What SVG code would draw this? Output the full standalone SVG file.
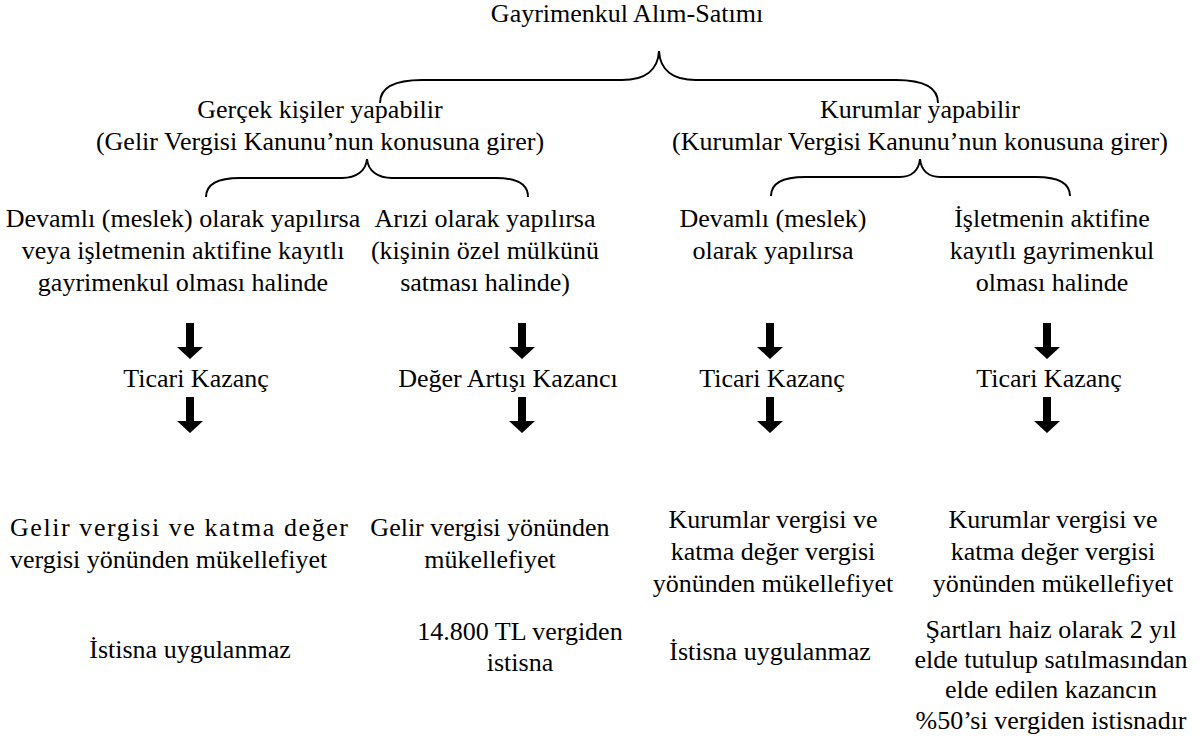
<svg xmlns="http://www.w3.org/2000/svg" xmlns:xlink="http://www.w3.org/1999/xlink" width="1201" height="738" viewBox="0 0 1201 738">
<style>
.t{font-size:26px;fill:#000;}
.c{text-anchor:middle;}
.brace{fill:none;stroke:#000;stroke-width:2;}
</style>
<defs>
<path id="arr" d="M-4,0 H4 V24 H13 L0,36 L-13,24 H-4 Z" fill="#000"/>
</defs>
<rect width="1201" height="738" fill="#fff"/>
<g id="connectors">
<path class="brace" d="M380,103 C380,89 392,80 422,80 H622 C645,80 658,70 659,51 C660,70 673,80 696,80 H896 C926,80 938,89 938,103"/>
<path class="brace" d="M206,197 C206,186 214,178 240,178 H342 C356,178 366,171 367,159 C368,171 378,178 392,178 H496 C520,178 528,186 528,197"/>
<path class="brace" d="M771,196 C771,185 779,177 805,177 H900 C912,177 919,170 920,159 C921,170 928,177 940,177 H1036 C1062,177 1070,185 1070,196"/>
<use xlink:href="#arr" x="190" y="323"/>
<use xlink:href="#arr" x="190" y="397"/>
<use xlink:href="#arr" x="522" y="323"/>
<use xlink:href="#arr" x="522" y="397"/>
<use xlink:href="#arr" x="770" y="323"/>
<use xlink:href="#arr" x="770" y="397"/>
<use xlink:href="#arr" x="1047" y="323"/>
<use xlink:href="#arr" x="1047" y="397"/>
</g>
<g class="t" font-family="Liberation Serif, DejaVu Serif, serif">
<g id="root"><text class="c" x="627" y="22">Gayrimenkul Alım-Satımı</text></g>
<g id="gercek">
<text class="c" x="320" y="118">Gerçek kişiler yapabilir</text>
<text class="c" x="320" y="150">(Gelir Vergisi Kanunu’nun konusuna girer)</text>
</g>
<g id="kurum">
<text class="c" x="920" y="118">Kurumlar yapabilir</text>
<text class="c" x="920" y="150">(Kurumlar Vergisi Kanunu’nun konusuna girer)</text>
</g>
<g id="c1">
<text class="c" x="183" y="227">Devamlı (meslek) olarak yapılırsa</text>
<text class="c" x="183" y="259">veya işletmenin aktifine kayıtlı</text>
<text class="c" x="183" y="291">gayrimenkul olması halinde</text>
</g>
<g id="c2">
<text class="c" x="485" y="227">Arızi olarak yapılırsa</text>
<text class="c" x="485" y="259">(kişinin özel mülkünü</text>
<text class="c" x="485" y="291">satması halinde)</text>
</g>
<g id="c3">
<text class="c" x="773" y="227">Devamlı (meslek)</text>
<text class="c" x="773" y="259">olarak yapılırsa</text>
</g>
<g id="c4">
<text class="c" x="1052" y="227">İşletmenin aktifine</text>
<text class="c" x="1052" y="259">kayıtlı gayrimenkul</text>
<text class="c" x="1052" y="291">olması halinde</text>
</g>
<g id="k1"><text class="c" x="196" y="387">Ticari Kazanç</text></g>
<g id="k2"><text class="c" x="508" y="387">Değer Artışı Kazancı</text></g>
<g id="k3"><text class="c" x="772" y="387">Ticari Kazanç</text></g>
<g id="k4"><text class="c" x="1049" y="387">Ticari Kazanç</text></g>
<g id="m1">
<text x="10" y="536" textLength="338" lengthAdjust="spacing">Gelir vergisi ve katma değer</text>
<text x="10" y="568">vergisi yönünden mükellefiyet</text>
</g>
<g id="m2">
<text class="c" x="490" y="536">Gelir vergisi yönünden</text>
<text class="c" x="490" y="568">mükellefiyet</text>
</g>
<g id="m3">
<text class="c" x="773" y="528">Kurumlar vergisi ve</text>
<text class="c" x="773" y="560">katma değer vergisi</text>
<text class="c" x="773" y="592">yönünden mükellefiyet</text>
</g>
<g id="m4">
<text class="c" x="1053" y="528">Kurumlar vergisi ve</text>
<text class="c" x="1053" y="560">katma değer vergisi</text>
<text class="c" x="1053" y="592">yönünden mükellefiyet</text>
</g>
<g id="i1"><text class="c" x="190" y="658">İstisna uygulanmaz</text></g>
<g id="i2">
<text class="c" x="520" y="640">14.800 TL vergiden</text>
<text class="c" x="520" y="671">istisna</text>
</g>
<g id="i3"><text class="c" x="770" y="660">İstisna uygulanmaz</text></g>
<g id="i4">
<text class="c" x="1051" y="638">Şartları haiz olarak 2 yıl</text>
<text class="c" x="1051" y="668">elde tutulup satılmasından</text>
<text class="c" x="1051" y="698">elde edilen kazancın</text>
<text class="c" x="1051" y="729">%50’si vergiden istisnadır</text>
</g>
</g>
</svg>
